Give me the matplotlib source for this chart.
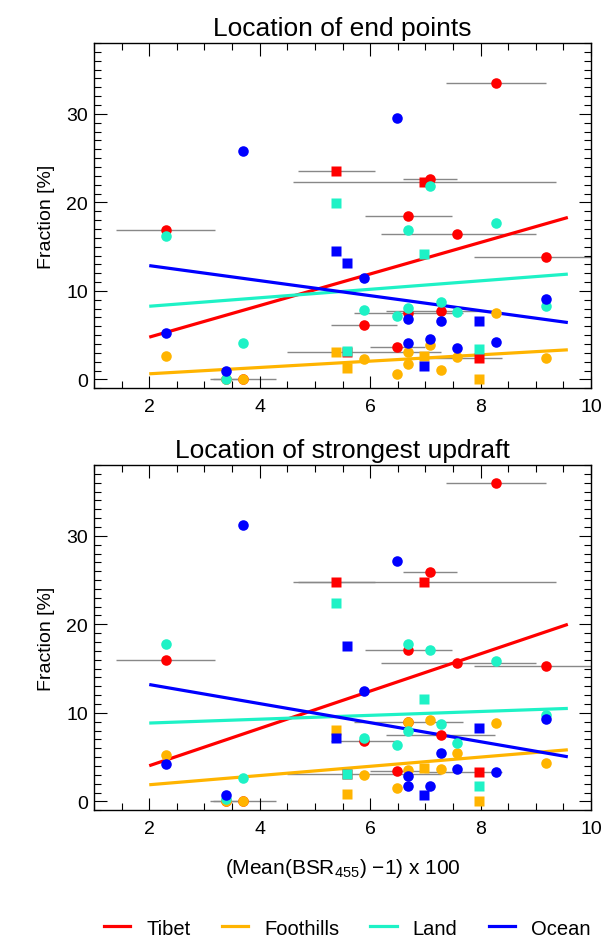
import numpy as np
import matplotlib
matplotlib.use("Agg")
import matplotlib.pyplot as plt
from matplotlib.ticker import MultipleLocator
from matplotlib.lines import Line2D

plt.rcParams['font.family'] = ['Liberation Sans', 'DejaVu Sans']
plt.rcParams['mathtext.default'] = 'regular'

# one entry per case: mean BSR and its range
x_case = [2.30, 3.39, 3.69, 5.38, 5.58, 5.88, 6.49, 6.69, 6.69, 6.98, 7.08, 7.28, 7.58, 7.98, 8.28, 9.18]
x_lo = [1.40, 3.15, 3.10, 4.69, 4.49, 5.29, 6.00, 5.90, 5.70, 4.60, 6.59, 6.29, 6.19, 6.98, 7.38, 7.88]
x_hi = [3.19, 3.65, 4.29, 6.09, 7.28, 6.48, 7.00, 7.48, 7.68, 9.37, 7.58, 8.27, 9.00, 8.38, 9.18, 10.5]
dataset = ['A', 'A', 'A', 'B', 'B', 'A', 'A', 'A', 'A', 'B', 'A', 'A', 'A', 'B', 'A', 'A']

# location of end points [%]
end_tibet = [16.9, 0.0, 0.0, 23.5, 3.1, 6.17, 3.69, 18.5, 7.5, 22.3, 22.6, 7.75, 16.4, 2.41, 33.5, 13.8]
end_foot = [2.7, 0.0, 0.0, 3.09, 1.28, 2.33, 0.6, 3.09, 1.73, 2.7, 3.84, 1.1, 2.56, 0.08, 7.52, 2.4]
end_land = [16.2, 0.0, 4.1, 19.9, 3.24, 7.9, 7.2, 16.9, 8.05, 14.2, 21.9, 8.8, 7.67, 3.46, 17.7, 8.3]
end_ocean = [5.2, 0.98, 25.8, 14.5, 13.2, 11.5, 29.5, 6.85, 4.14, 1.5, 4.59, 6.65, 3.54, 6.65, 4.2, 9.1]

# location of strongest updraft [%]
upd_tibet = [15.97, 0.0, 0.0, 24.8, 3.1, 6.81, 3.42, 17.1, 8.93, 24.8, 25.9, 7.53, 15.63, 3.35, 36.0, 15.25]
upd_foot = [5.23, 0.0, 0.0, 8.09, 0.79, 3.0, 1.54, 3.5, 8.93, 3.73, 9.22, 3.68, 5.46, 0.0, 8.8, 4.33]
upd_land = [17.77, 0.26, 2.6, 22.37, 3.05, 7.19, 6.36, 17.77, 7.91, 11.56, 17.13, 8.73, 6.55, 1.69, 15.85, 9.75]
upd_ocean = [4.21, 0.75, 31.2, 7.19, 17.6, 12.5, 27.2, 2.82, 1.69, 0.71, 1.77, 5.46, 3.68, 8.28, 3.35, 9.3]

# fitted lines, read at the two ends
fit_x = [2.0, 9.58]
end_fit_tibet = [4.78, 18.3]
end_fit_foot = [0.64, 3.35]
end_fit_land = [8.27, 11.9]
end_fit_ocean = [12.86, 6.43]
upd_fit_tibet = [4.03, 20.0]
upd_fit_foot = [1.88, 5.83]
upd_fit_land = [8.85, 10.5]
upd_fit_ocean = [13.2, 5.04]

regions = ['Tibet', 'Foothills', 'Land', 'Ocean']
colors = ['#ff0000', '#ffb400', '#1ef2c6', '#0000ff']
markers = {'A': 'o', 'B': 's'}

fig = plt.figure(figsize=(6.05, 9.37), dpi=100)
ax1 = fig.add_axes([0.1554, 0.5845, 0.8215, 0.3685])
ax2 = fig.add_axes([0.1554, 0.1342, 0.8215, 0.3685])

panels = [
    (ax1, 'Location of end points', [end_tibet, end_foot, end_land, end_ocean],
     [end_fit_tibet, end_fit_foot, end_fit_land, end_fit_ocean]),
    (ax2, 'Location of strongest updraft', [upd_tibet, upd_foot, upd_land, upd_ocean],
     [upd_fit_tibet, upd_fit_foot, upd_fit_land, upd_fit_ocean]),
]

xc = np.array(x_case)
kind = np.array(dataset)
for ax, title, series, fits in panels:
    ax.hlines(series[0], x_lo, x_hi, color='#888888', lw=1.0, zorder=1)
    for fy, c in zip(fits, colors):
        ax.plot(fit_x, fy, color=c, lw=2.3, zorder=2, solid_capstyle='butt')
    for vals, c in zip(series, colors):
        v = np.array(vals)
        for k, m in markers.items():
            sel = kind == k
            ax.plot(xc[sel], v[sel], ls='none', marker=m, ms=7.6, mfc=c, mec='none', zorder=3)
    ax.set_xlim(1, 10)
    ax.set_ylim(-1, 38)
    ax.xaxis.set_major_locator(MultipleLocator(2))
    ax.xaxis.set_minor_locator(MultipleLocator(0.5))
    ax.yaxis.set_major_locator(MultipleLocator(10))
    ax.yaxis.set_minor_locator(MultipleLocator(1))
    ax.tick_params(which='both', direction='in', top=True, right=True, width=0.8, labelsize=14)
    ax.tick_params(which='major', length=9)
    ax.tick_params(which='minor', length=4.7)
    ax.tick_params(axis='x', pad=7)
    ax.tick_params(axis='y', pad=4.5)
    for s in ax.spines.values():
        s.set_linewidth(1.0)
    ax.set_title(title, fontsize=19, pad=6)
    ax.set_ylabel('Fraction [%]', fontsize=14, labelpad=8)

ax2.set_xlabel('(Mean(BSR$_{455}$) \u22121) x 100', fontsize=15, labelpad=14)

handles = [Line2D([], [], color=c, lw=2.3) for c in colors]
fig.legend(handles, regions, loc='center', bbox_to_anchor=(0.574, 0.0085), ncol=4,
           frameon=False, fontsize=14.5, handlelength=1.3, handletextpad=0.8,
           columnspacing=1.55, borderpad=0)

fig.savefig('out.png', dpi=100)
